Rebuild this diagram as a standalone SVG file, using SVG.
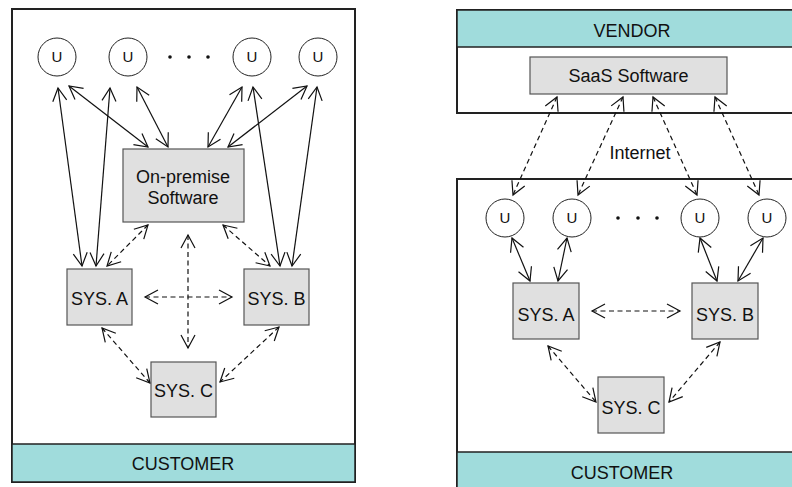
<svg xmlns="http://www.w3.org/2000/svg" width="792" height="487" viewBox="0 0 792 487">
<style>
text{font-family:"Liberation Sans",Arial,sans-serif;fill:#111;text-anchor:middle}
.panel{fill:#fff;stroke:#222;stroke-width:2}
.band{fill:#a0dcdc;stroke:#222;stroke-width:1.5}
.box{fill:#e0e0e0;stroke:#555;stroke-width:1.2}
.u{fill:#fff;stroke:#222;stroke-width:1}
.s{stroke:#111;stroke-width:1.2;fill:none;marker-start:url(#ah);marker-end:url(#ah)}
.d{stroke:#111;stroke-width:1.2;fill:none;stroke-dasharray:5 3.5;marker-start:url(#ah);marker-end:url(#ah)}
.lbl{font-size:18px}
.ut{font-size:15px}
</style>
<defs>
<marker id="ah" markerUnits="userSpaceOnUse" markerWidth="16" markerHeight="18" refX="14" refY="9" orient="auto-start-reverse">
<path d="M1,2 L14,9 L1,16" fill="none" stroke="#111" stroke-width="1.2"/>
</marker>
</defs>

<g id="customer-left">
<rect class="panel" x="12" y="9" width="343" height="473"/>
<rect class="band" x="12" y="444" width="343" height="38"/>
<text class="lbl" x="183" y="470">CUSTOMER</text>
</g>

<g id="vendor">
<rect class="panel" x="457" y="10" width="345" height="103"/>
<rect class="band" x="457" y="10" width="345" height="37"/>
<text class="lbl" x="632" y="37">VENDOR</text>
</g>

<g id="customer-right">
<rect class="panel" x="457" y="179" width="345" height="320"/>
<rect class="band" x="457" y="452" width="345" height="47"/>
<text class="lbl" x="622" y="479">CUSTOMER</text>
</g>

<g id="connectors">
<line class="s" x1="58" y1="88" x2="82" y2="266"/>
<line class="s" x1="110" y1="88" x2="96" y2="266"/>
<line class="s" x1="69" y1="86" x2="148" y2="147"/>
<line class="s" x1="137" y1="87" x2="168" y2="147"/>
<line class="s" x1="242" y1="87" x2="208" y2="147"/>
<line class="s" x1="307" y1="86" x2="228" y2="147"/>
<line class="s" x1="253" y1="87" x2="280" y2="266"/>
<line class="s" x1="317" y1="87" x2="292" y2="266"/>
<line class="d" x1="148" y1="225" x2="107" y2="266"/>
<line class="d" x1="223" y1="225" x2="270" y2="266"/>
<line class="d" x1="188" y1="235" x2="188" y2="348"/>
<line class="d" x1="145" y1="297" x2="232" y2="297"/>
<line class="d" x1="102" y1="328" x2="150" y2="383"/>
<line class="d" x1="279" y1="327" x2="220" y2="382"/>

<line class="d" x1="557" y1="97" x2="513" y2="195"/>
<line class="d" x1="623" y1="97" x2="578" y2="195"/>
<line class="d" x1="653" y1="97" x2="697" y2="195"/>
<line class="d" x1="715" y1="97" x2="759" y2="195"/>
<line class="s" x1="512" y1="238" x2="530" y2="281"/>
<line class="s" x1="567" y1="238" x2="558" y2="281"/>
<line class="s" x1="700" y1="238" x2="717" y2="281"/>
<line class="s" x1="763" y1="238" x2="738" y2="281"/>
<line class="d" x1="592" y1="311" x2="680" y2="311"/>
<line class="d" x1="548" y1="346" x2="596" y2="402"/>
<line class="d" x1="720" y1="342" x2="669" y2="402"/>
<text class="lbl" x="640" y="159">Internet</text>
</g>

<g id="left-users">
<circle class="u" cx="57" cy="57" r="19"/><text class="ut" x="57" y="62">U</text>
<circle class="u" cx="128" cy="57" r="19"/><text class="ut" x="128" y="62">U</text>
<circle class="u" cx="252" cy="57" r="19"/><text class="ut" x="252" y="62">U</text>
<circle class="u" cx="318" cy="57" r="19"/><text class="ut" x="318" y="62">U</text>
<circle cx="170" cy="57" r="1.8" fill="#111"/>
<circle cx="189" cy="57" r="1.8" fill="#111"/>
<circle cx="208" cy="57" r="1.8" fill="#111"/>
</g>

<g id="on-premise">
<rect class="box" x="123" y="149" width="121" height="73"/>
<text class="lbl" x="183" y="183">On-premise</text>
<text class="lbl" x="183" y="204">Software</text>
</g>
<g id="left-sys-a"><rect class="box" x="67" y="269" width="65" height="56"/><text class="lbl" x="99.5" y="305">SYS. A</text></g>
<g id="left-sys-b"><rect class="box" x="244" y="269" width="65" height="56"/><text class="lbl" x="276.5" y="305">SYS. B</text></g>
<g id="left-sys-c"><rect class="box" x="151" y="362" width="65" height="55"/><text class="lbl" x="183.5" y="397">SYS. C</text></g>

<g id="saas">
<rect class="box" x="530" y="57" width="197" height="37"/>
<text class="lbl" x="628.5" y="82">SaaS Software</text>
</g>

<g id="right-users">
<circle class="u" cx="505" cy="218" r="19"/><text class="ut" x="505" y="223">U</text>
<circle class="u" cx="572" cy="218" r="19"/><text class="ut" x="572" y="223">U</text>
<circle class="u" cx="700" cy="218" r="19"/><text class="ut" x="700" y="223">U</text>
<circle class="u" cx="767" cy="218" r="19"/><text class="ut" x="767" y="223">U</text>
<circle cx="618" cy="218" r="1.8" fill="#111"/>
<circle cx="638" cy="218" r="1.8" fill="#111"/>
<circle cx="657" cy="218" r="1.8" fill="#111"/>
</g>

<g id="right-sys-a"><rect class="box" x="513" y="283" width="66" height="56"/><text class="lbl" x="546" y="321">SYS. A</text></g>
<g id="right-sys-b"><rect class="box" x="692" y="283" width="66" height="56"/><text class="lbl" x="725" y="321">SYS. B</text></g>
<g id="right-sys-c"><rect class="box" x="598" y="377" width="66" height="56"/><text class="lbl" x="631" y="414">SYS. C</text></g>
</svg>
